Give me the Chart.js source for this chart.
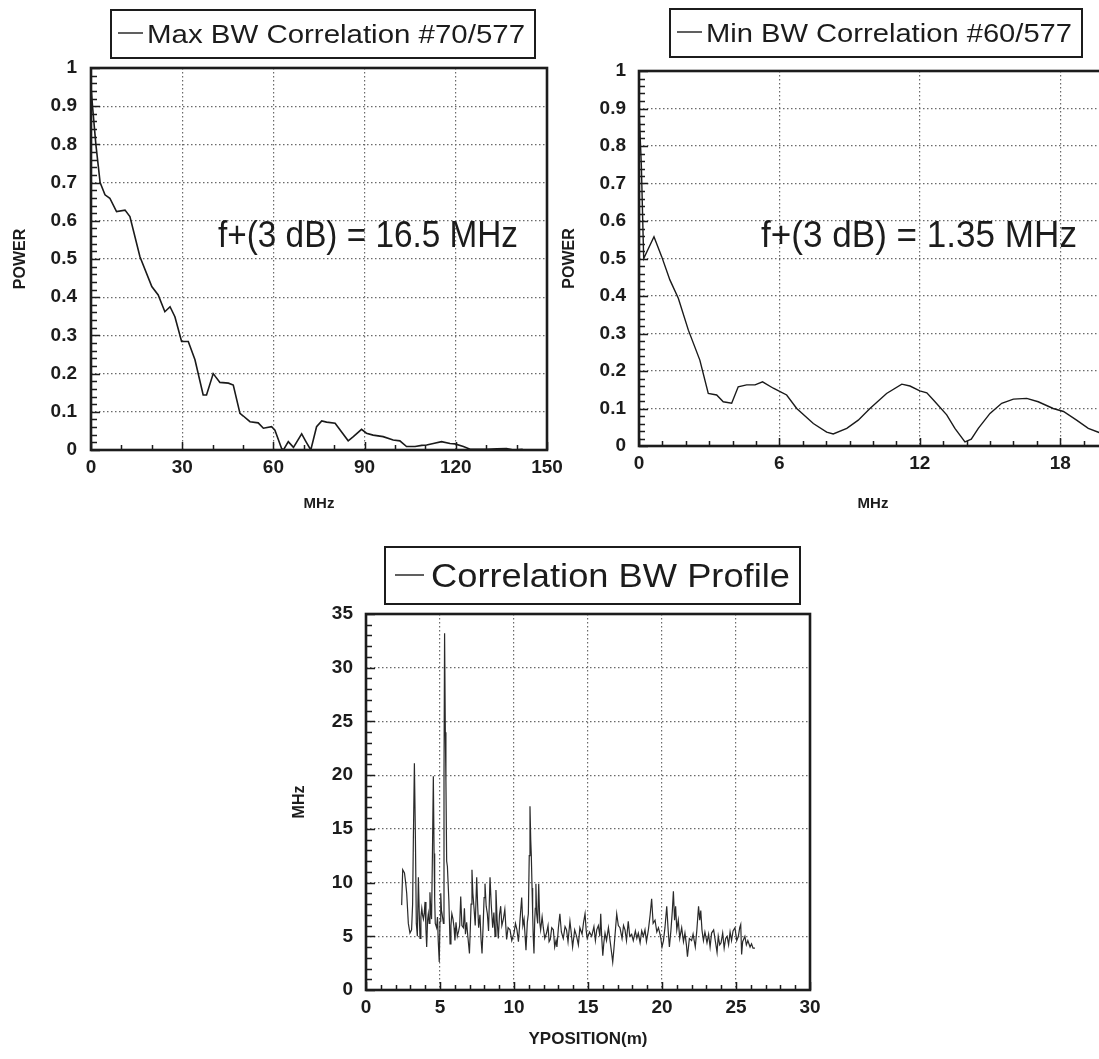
<!DOCTYPE html>
<html lang="en">
<head>
  <meta charset="UTF-8">
  <title>Correlation BW</title>
  <script src="https://cdn.jsdelivr.net/npm/chart.js"></script>
  <style>
    html, body { margin: 0; padding: 0; background: #fff; overflow: hidden; }
    body { width: 1099px; height: 1059px; position: relative; }
    canvas { position: absolute; }
  </style>
</head>
<body>
  <canvas id="maxChart" width="580" height="530" style="left:0;top:0"></canvas>
  <canvas id="minChart" width="580" height="530" style="left:540px;top:0"></canvas>
  <canvas id="profChart" width="560" height="529" style="left:270px;top:530px"></canvas>

  <script>
    // max BW correlation (#70/577): frequency MHz / normalised power
    const maxBwMHz = [0, 0.5, 1.6, 3, 4.6, 6.2, 8.4, 11.2, 12.8, 16.1, 20, 22.1, 24.3, 26, 27.6, 29.8, 32, 34.2, 36.9, 38,
      40.2, 42.4, 45.2, 46.8, 49, 50.1, 52.3, 55, 56.7, 59.4, 60.5, 62.7, 63.3, 64.9, 66.6, 69.3, 70.7, 72.3, 74.2, 75.9,
      77.5, 80.3, 84.6, 86.3, 89, 90.6, 92.8, 96.1, 99.4, 101.6, 103.8, 106.6, 108.8, 110.4, 112.6, 115.3, 118.1, 119.7,
      122.5, 124.7, 130.2, 133.5, 136.7, 139, 142];
    const maxBwPower = [0.95, 0.9, 0.8, 0.7, 0.668, 0.659, 0.624, 0.628, 0.611, 0.506, 0.428, 0.406, 0.362, 0.375, 0.349, 0.284, 0.284, 0.236, 0.144, 0.144,
      0.2, 0.177, 0.175, 0.17, 0.096, 0.089, 0.074, 0.071, 0.057, 0.061, 0.052, 0.004, 0, 0.022, 0.007, 0.042, 0.022, 0, 0.061, 0.076,
      0.073, 0.07, 0.024, 0.035, 0.054, 0.044, 0.039, 0.035, 0.026, 0.024, 0.009, 0.009, 0.012, 0.013, 0.017, 0.022, 0.017, 0.016,
      0.009, 0.002, 0.002, 0.003, 0.004, 0, 0.002];

    // min BW correlation (#60/577)
    const minBwMHz = [0, 0.1, 0.2, 0.64, 0.97, 1.32, 1.68, 2.11, 2.6, 2.96, 3.32, 3.6, 3.96, 4.24, 4.6, 4.96, 5.28, 5.74, 6.03, 6.31,
      6.74, 7.45, 8.02, 8.3, 8.88, 9.37, 9.87, 10.58, 11.23, 11.58, 12.0, 12.3, 12.65, 13.15, 13.5, 13.93, 14.2, 14.5, 15.0, 15.5,
      16.0, 16.57, 17.06, 17.7, 18.14, 18.7, 19.2, 19.66, 20];
    const minBwPower = [0.9, 0.75, 0.5, 0.558, 0.505, 0.443, 0.394, 0.309, 0.229, 0.14, 0.136, 0.118, 0.114, 0.158, 0.163, 0.163, 0.171, 0.154, 0.145, 0.136,
      0.1, 0.06, 0.037, 0.032, 0.047, 0.069, 0.1, 0.14, 0.165, 0.16, 0.147, 0.142, 0.118, 0.083, 0.047, 0.011, 0.018, 0.047, 0.087, 0.114,
      0.125, 0.127, 0.118, 0.1, 0.092, 0.069, 0.047, 0.036, 0.03];

    // correlation BW profile along the scan
    const yPosition = [2.41, 2.48, 2.6, 2.68, 2.75, 2.86, 2.97, 3.08, 3.15, 3.2, 3.27, 3.34, 3.4, 3.47, 3.54, 3.6, 3.65, 3.71, 3.77, 3.83,
      3.88, 3.94, 3.99, 4.05, 4.1, 4.16, 4.21, 4.27, 4.32, 4.38, 4.43, 4.49, 4.55, 4.6, 4.64, 4.68, 4.77, 4.83, 4.88, 4.95,
      5.0, 5.05, 5.1, 5.14, 5.23, 5.27, 5.31, 5.36, 5.4, 5.45, 5.5, 5.6, 5.68, 5.74, 5.8, 5.88, 5.95, 6.01, 6.08, 6.17,
      6.26, 6.33, 6.4, 6.48, 6.58, 6.65, 6.72, 6.8, 6.88, 6.99, 7.05, 7.1, 7.16, 7.22, 7.3, 7.38, 7.48, 7.54, 7.61, 7.7,
      7.77, 7.84, 7.92, 7.98, 8.04, 8.12, 8.2, 8.28, 8.38, 8.46, 8.56, 8.64, 8.72, 8.78, 8.86, 8.94, 9.02, 9.1, 9.18, 9.28,
      9.38, 9.5, 9.6, 9.73, 9.85, 10.0, 10.1, 10.2, 10.3, 10.42, 10.52, 10.6, 10.68, 10.75, 10.81, 10.9, 10.97, 11.03, 11.08, 11.13,
      11.17, 11.22, 11.26, 11.3, 11.35, 11.4, 11.44, 11.48, 11.53, 11.6, 11.67, 11.74, 11.8, 11.9, 11.98, 12.08, 12.2, 12.3, 12.37, 12.45,
      12.55, 12.66, 12.75, 12.84, 12.9, 13.0, 13.1, 13.2, 13.33, 13.45, 13.55, 13.65, 13.78, 13.87, 13.96, 14.1, 14.23, 14.35, 14.45, 14.6,
      14.7, 14.8, 14.88, 14.95, 15.1, 15.25, 15.4, 15.5, 15.59, 15.7, 15.8, 15.86, 15.93, 16.0, 16.07, 16.15, 16.25, 16.38, 16.5, 16.6,
      16.67, 16.75, 16.82, 16.94, 17.05, 17.16, 17.3, 17.4, 17.5, 17.6, 17.72, 17.82, 17.95, 18.06, 18.2, 18.3, 18.4, 18.52, 18.63, 18.74,
      18.85, 18.95, 19.08, 19.2, 19.3, 19.4, 19.53, 19.65, 19.76, 19.9, 20.0, 20.1, 20.2, 20.32, 20.42, 20.5, 20.6, 20.7, 20.77, 20.85,
      20.92, 21.0, 21.1, 21.2, 21.33, 21.45, 21.55, 21.65, 21.72, 21.85, 22.0, 22.1, 22.25, 22.35, 22.47, 22.55, 22.62, 22.7, 22.8, 22.9,
      23.04, 23.15, 23.25, 23.35, 23.49, 23.6, 23.72, 23.8, 23.9, 23.99, 24.1, 24.2, 24.3, 24.4, 24.5, 24.6, 24.7, 24.8, 24.93, 25.05,
      25.16, 25.25, 25.32, 25.38, 25.45, 25.6, 25.7, 25.8, 25.95, 26.05, 26.15, 26.28];
    const bwMHz = [7.9, 11.2, 10.9, 10.0, 9.0, 6.2, 5.3, 5.6, 8.0, 14.0, 21.1, 14.0, 6.2, 5.0, 10.5, 7.0, 4.8, 6.8, 7.6, 6.9,
      6.6, 7.2, 8.2, 5.6, 4.0, 6.5, 7.1, 6.2, 9.1, 7.4, 6.6, 12.8, 19.9, 12.7, 8.5, 6.2, 5.8, 6.8, 4.6, 2.6,
      6.4, 9.0, 7.4, 7.1, 6.2, 20.0, 33.2, 24.0, 19.5, 12.0, 11.5, 8.3, 4.3, 6.0, 7.1, 6.6, 5.8, 4.6, 6.3, 5.0,
      5.5, 6.0, 8.7, 6.0, 5.8, 7.6, 5.2, 6.3, 5.0, 3.4, 5.8, 8.0, 11.2, 9.0, 7.6, 6.0, 10.5, 8.0, 5.8, 7.0,
      4.8, 3.4, 6.2, 8.6, 9.9, 7.8, 7.1, 5.5, 10.5, 8.0, 5.8, 7.2, 5.0, 9.3, 6.5, 4.8, 7.0, 7.8, 6.0, 6.6,
      7.5, 4.7, 5.8, 5.6, 4.6, 5.3, 6.2, 5.6, 4.5, 6.8, 8.6, 6.0, 6.6, 5.0, 3.7, 6.3, 7.1, 12.5, 17.1, 14.0,
      12.5, 9.5, 7.1, 5.0, 3.4, 6.5, 7.6, 9.9, 7.1, 6.2, 9.9, 6.3, 5.6, 6.8, 5.8, 4.8, 5.3, 6.0, 4.5, 4.7,
      5.8, 5.6, 4.0, 4.6, 4.0, 5.8, 7.1, 5.4, 4.8, 5.9, 5.6, 4.5, 6.4, 5.3, 4.0, 5.6, 5.0, 4.2, 5.8, 5.2,
      6.3, 7.1, 5.5, 4.8, 5.4, 5.0, 5.9, 4.6, 5.6, 6.0, 5.0, 7.1, 4.8, 3.2, 4.4, 5.3, 4.6, 5.8, 4.5, 3.4,
      2.6, 3.8, 5.0, 7.1, 6.0, 5.8, 4.8, 6.0, 5.6, 4.6, 6.4, 5.0, 5.2, 4.6, 5.5, 4.8, 5.3, 4.4, 5.5, 5.0,
      5.6, 4.5, 5.6, 7.0, 8.5, 6.2, 6.5, 5.4, 5.8, 5.0, 4.0, 4.6, 5.8, 7.8, 5.5, 4.0, 5.5, 7.4, 9.2, 6.5,
      7.8, 5.6, 6.5, 4.8, 5.8, 4.5, 5.3, 4.2, 3.1, 4.8, 4.6, 5.2, 4.0, 5.5, 7.8, 6.5, 7.4, 5.6, 4.6, 5.4,
      4.4, 5.2, 4.0, 5.3, 5.6, 4.6, 3.5, 5.0, 4.2, 4.4, 5.3, 3.9, 4.8, 5.0, 4.2, 5.4, 4.6, 5.5, 5.8, 4.6,
      5.0, 5.8, 6.1, 3.3, 4.5, 5.0, 4.2, 4.6, 4.0, 4.3, 3.9, 3.9];

    // tick values
    const powerTicks = [0, 0.1, 0.2, 0.3, 0.4, 0.5, 0.6, 0.7, 0.8, 0.9, 1];
    const maxXTicks = [0, 30, 60, 90, 120, 150];
    const minXTicks = [0, 6, 12, 18];
    const profXTicks = [0, 5, 10, 15, 20, 25, 30];
    const profYTicks = [0, 5, 10, 15, 20, 25, 30, 35];

    const FONT = '"Liberation Sans", Arial, Helvetica, sans-serif';
    const INK = '#1c1c1c';

    function pts(xs, ys) {
      return xs.map((x, i) => ({ x: x, y: ys[i] }));
    }

    // frame + inside tick marks (major and minor)
    const framePlugin = {
      id: 'frame',
      afterDatasetsDraw(chart, args, o) {
        const { ctx, chartArea: a, scales: { x, y } } = chart;
        ctx.save();
        ctx.strokeStyle = INK;
        ctx.lineWidth = 1.5;
        ctx.beginPath();
        const isMajor = (v, step) => Math.abs(v / step - Math.round(v / step)) < 1e-6;
        for (let i = 0; x.min + i * o.xMinor <= x.max + 1e-9; i++) {
          const v = x.min + i * o.xMinor;
          const px = Math.round(x.getPixelForValue(v)) + 0.5;
          const len = isMajor(v, o.xMajor) ? 8 : 5;
          ctx.moveTo(px, a.bottom);
          ctx.lineTo(px, a.bottom - len);
        }
        for (let i = 0; y.min + i * o.yMinor <= y.max + 1e-9; i++) {
          const v = y.min + i * o.yMinor;
          const py = Math.round(y.getPixelForValue(v)) + 0.5;
          const len = isMajor(v, o.yMajor) ? 9 : 6;
          ctx.moveTo(a.left, py);
          ctx.lineTo(a.left + len, py);
        }
        ctx.stroke();
        ctx.lineWidth = 2.6;
        ctx.strokeRect(a.left, a.top, a.right - a.left, a.bottom - a.top);
        ctx.restore();
      }
    };

    // boxed legend with a short line sample, text squeezed to the measured width
    const boxLegendPlugin = {
      id: 'boxLegend',
      afterDraw(chart, args, o) {
        const ctx = chart.ctx;
        const label = chart.data.datasets[0].label;
        ctx.save();
        ctx.strokeStyle = INK;
        ctx.lineWidth = 2;
        ctx.strokeRect(o.box[0], o.box[1], o.box[2] - o.box[0], o.box[3] - o.box[1]);
        ctx.lineWidth = 1.4;
        ctx.beginPath();
        ctx.moveTo(o.dash[0], o.dash[2]);
        ctx.lineTo(o.dash[1], o.dash[2]);
        ctx.stroke();
        ctx.font = o.size + 'px ' + FONT;
        ctx.fillStyle = INK;
        ctx.textBaseline = 'alphabetic';
        const w = ctx.measureText(label).width;
        ctx.translate(o.textX, o.baseline);
        ctx.scale(o.textW / w, 1);
        ctx.fillText(label, 0, 0);
        ctx.restore();
      }
    };

    const notePlugin = {
      id: 'note',
      afterDraw(chart, args, o) {
        const ctx = chart.ctx;
        ctx.save();
        ctx.font = o.size + 'px ' + FONT;
        ctx.fillStyle = INK;
        ctx.textBaseline = 'middle';
        const w = ctx.measureText(o.text).width;
        ctx.translate(o.x, o.y);
        ctx.scale(o.width / w, 1);
        ctx.fillText(o.text, 0, 0);
        ctx.restore();
      }
    };

    function axis(opts) {
      return {
        type: 'linear',
        min: opts.min,
        max: opts.max,
        afterBuildTicks: s => { s.ticks = opts.ticks.map(v => ({ value: v })); },
        afterFit: s => {
          if (opts.width) s.width = opts.width;
          if (opts.height) s.height = opts.height;
          s.paddingLeft = 0;
          s.paddingRight = 0;
          s.paddingTop = 0;
          s.paddingBottom = 0;
        },
        grid: { color: '#6a6a6a', lineWidth: 1.2, drawTicks: false },
        border: { display: false, dash: [1.5, 2.5] },
        ticks: {
          autoSkip: false,
          maxRotation: 0,
          padding: opts.tickPad,
          color: INK,
          font: { family: FONT, size: 19, weight: 'bold' },
          callback: v => String(v)
        },
        title: {
          display: true,
          text: opts.title,
          color: INK,
          font: { family: FONT, size: opts.titleSize, weight: 'bold' },
          padding: opts.titlePad
        }
      };
    }

    function makeChart(id, cfg) {
      new Chart(document.getElementById(id), {
        type: 'scatter',
        data: {
          datasets: [{
            label: cfg.label,
            data: pts(cfg.xs, cfg.ys),
            showLine: true,
            borderColor: cfg.color,
            borderWidth: cfg.lineWidth,
            pointRadius: 0,
            tension: 0
          }]
        },
        options: {
          responsive: false,
          animation: false,
          layout: { padding: cfg.padding },
          scales: { x: cfg.x, y: cfg.y },
          plugins: {
            legend: { display: false },
            tooltip: { enabled: false },
            frame: cfg.frame,
            boxLegend: cfg.legend,
            note: cfg.note || false
          }
        },
        plugins: [framePlugin, boxLegendPlugin, notePlugin]
      });
    }

    makeChart('maxChart', {
      label: 'Max BW Correlation #70/577',
      xs: maxBwMHz, ys: maxBwPower, color: '#1a1a1a', lineWidth: 1.6,
      padding: { left: 0, right: 33, top: 68, bottom: 0 },
      x: axis({ min: 0, max: 150, ticks: maxXTicks, height: 80, tickPad: 6, title: 'MHz', titleSize: 15, titlePad: { top: 0, bottom: 17 } }),
      y: axis({ min: 0, max: 1, ticks: powerTicks, width: 91, tickPad: 14, title: 'POWER', titleSize: 16, titlePad: { top: 11, bottom: 0 } }),
      frame: { xMinor: 10, xMajor: 30, yMinor: 0.02, yMajor: 0.1 },
      legend: { box: [111, 10, 535, 58], dash: [118, 143, 33], textX: 147, textW: 378, baseline: 43, size: 26 },
      note: { text: 'f+(3 dB) = 16.5 MHz', x: 218, y: 237, width: 300, size: 36 }
    });

    makeChart('minChart', {
      label: 'Min BW Correlation #60/577',
      xs: minBwMHz, ys: minBwPower, color: '#1a1a1a', lineWidth: 1.4,
      padding: { left: 0, right: 13, top: 71, bottom: 0 },
      x: axis({ min: 0, max: 20, ticks: minXTicks, height: 84, tickPad: 6, title: 'MHz', titleSize: 15, titlePad: { top: 0, bottom: 17 } }),
      y: axis({ min: 0, max: 1, ticks: powerTicks, width: 99, tickPad: 13, title: 'POWER', titleSize: 16, titlePad: { top: 20, bottom: 0 } }),
      frame: { xMinor: 1, xMajor: 6, yMinor: 0.02, yMajor: 0.1 },
      legend: { box: [130, 9, 542, 57], dash: [137, 162, 32], textX: 166, textW: 366, baseline: 42, size: 26 },
      note: { text: 'f+(3 dB) = 1.35 MHz', x: 221, y: 237, width: 316, size: 36 }
    });

    makeChart('profChart', {
      label: 'Correlation BW Profile',
      xs: yPosition, ys: bwMHz, color: '#2a2a2a', lineWidth: 1.2,
      padding: { left: 0, right: 20, top: 84, bottom: 0 },
      x: axis({ min: 0, max: 30, ticks: profXTicks, height: 69, tickPad: 6, title: 'YPOSITION(m)', titleSize: 17, titlePad: { top: 0, bottom: 9 } }),
      y: axis({ min: 0, max: 35, ticks: profYTicks, width: 96, tickPad: 13, title: 'MHz', titleSize: 16, titlePad: { top: 20, bottom: 0 } }),
      frame: { xMinor: 1, xMajor: 5, yMinor: 1, yMajor: 5 },
      legend: { box: [115, 17, 530, 74], dash: [125, 154, 45], textX: 161, textW: 359, baseline: 57, size: 33 }
    });
  </script>
</body>
</html>
